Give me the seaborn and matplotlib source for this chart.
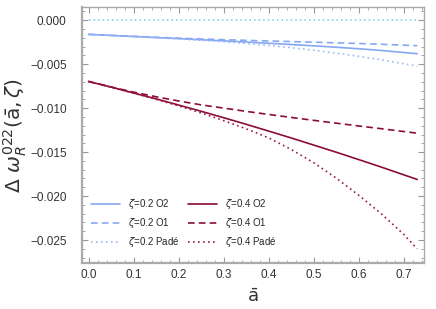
"""
Delta omega_R^022 vs a-bar for two zeta values
"""

import numpy as np
import pandas as pd
import matplotlib

matplotlib.use("Agg")
import matplotlib.pyplot as plt
import seaborn as sns
from matplotlib.ticker import MultipleLocator, FuncFormatter

# values
a_bar = [0.0, 0.05, 0.1, 0.15, 0.2, 0.25, 0.3, 0.35, 0.4, 0.45, 0.5, 0.55, 0.6, 0.65, 0.7, 0.73]

z02_o2 = [-0.00162, -0.00174, -0.00186, -0.00198, -0.00210, -0.00223, -0.00236, -0.00249,
          -0.00263, -0.00277, -0.00292, -0.00308, -0.00325, -0.00345, -0.00368, -0.00382]
z02_o1 = [-0.00162, -0.00173, -0.00184, -0.00195, -0.00205, -0.00214, -0.00222, -0.00230,
          -0.00237, -0.00244, -0.00251, -0.00258, -0.00266, -0.00274, -0.00285, -0.00291]
z02_pade = [-0.00162, -0.00174, -0.00187, -0.00200, -0.00214, -0.00229, -0.00246, -0.00266,
            -0.00288, -0.00313, -0.00342, -0.00375, -0.00411, -0.00451, -0.00495, -0.00523]

z04_o2 = [-0.00697, -0.00761, -0.00828, -0.00895, -0.00965, -0.01036, -0.01109, -0.01184,
          -0.01261, -0.01339, -0.01420, -0.01501, -0.01585, -0.01670, -0.01758, -0.01811]
z04_o1 = [-0.00697, -0.00760, -0.00818, -0.00871, -0.00919, -0.00963, -0.01000, -0.01037,
          -0.01072, -0.01106, -0.01139, -0.01171, -0.01203, -0.01234, -0.01266, -0.01285]
z04_pade = [-0.00697, -0.00762, -0.00830, -0.00900, -0.00975, -0.01055, -0.01142, -0.01235,
            -0.01338, -0.01470, -0.01620, -0.01795, -0.01990, -0.02200, -0.02435, -0.02600]

zero_line = [0.0] * len(a_bar)

series = [
    (r"$\zeta$=0.2 O2", z02_o2, "#86a8f2", "-"),
    (r"$\zeta$=0.2 O1", z02_o1, "#86a8f2", (0, (4, 2.5))),
    (r"$\zeta$=0.2 Padé", z02_pade, "#9dbaf5", (0, (1, 2))),
    (r"$\zeta$=0.4 O2", z04_o2, "#8c0c38", "-"),
    (r"$\zeta$=0.4 O1", z04_o1, "#8c0c38", (0, (4, 2.5))),
    (r"$\zeta$=0.4 Padé", z04_pade, "#9a1a45", (0, (1, 2))),
]


def fmt_tick(val, digits):
    s = f"{abs(val):.{digits}f}"
    if round(val, digits) < 0:
        s = "\u2212" + s
    return s


sns.set_style("ticks")
plt.rcParams["font.family"] = ["Liberation Sans", "DejaVu Sans"]
plt.rcParams["mathtext.fontset"] = "dejavusans"

fig = plt.figure(figsize=(4.36, 3.09), dpi=100)
ax = fig.add_axes([0.188, 0.149, 0.784, 0.828])

# reference line at zero
sns.lineplot(x=a_bar, y=zero_line, ax=ax, color="#6ccbe6", linewidth=1.1,
             linestyle=(0, (1, 2)), legend=False)

for label, vals, col, ls in series:
    df = pd.DataFrame({"a": a_bar, "v": vals})
    sns.lineplot(data=df, x="a", y="v", ax=ax, color=col, linewidth=1.2,
                 linestyle=ls, label=label)

ax.set_xlim(-0.0146, 0.7446)
ax.set_ylim(-0.0276, 0.00148)

ax.xaxis.set_major_locator(MultipleLocator(0.1))
ax.xaxis.set_minor_locator(MultipleLocator(0.02))
ax.yaxis.set_major_locator(MultipleLocator(0.005))
ax.yaxis.set_minor_locator(MultipleLocator(0.001))
ax.xaxis.set_major_formatter(FuncFormatter(lambda v, p: fmt_tick(v, 1)))
ax.yaxis.set_major_formatter(FuncFormatter(lambda v, p: fmt_tick(v, 3)))

ax.tick_params(which="both", direction="in", top=True, right=True,
               color="#999999", labelsize=8.5, labelcolor="#333333")
ax.tick_params(which="major", length=4, width=0.8)
ax.tick_params(which="minor", length=2, width=0.6)
ax.tick_params(axis="y", which="major", pad=11)
ax.tick_params(axis="x", which="major", pad=4)
for sp in ax.spines.values():
    sp.set_color("#aaaaaa")
    sp.set_linewidth(1.0)
ax.spines["left"].set_linewidth(1.6)
ax.spines["bottom"].set_linewidth(1.6)

ax.set_xlabel(r"$\mathrm{\bar{a}}$", fontsize=13, color="#333333", labelpad=6)
ax.set_ylabel(r"$\Delta\ \omega_R^{022}(\mathrm{\bar{a}},\zeta)$", fontsize=14.5,
              color="#333333", labelpad=1)

ax.legend(ncol=2, loc="lower left", bbox_to_anchor=(0.0, 0.02), frameon=False,
          fontsize=7, handlelength=3.0, columnspacing=0.9, handletextpad=0.8,
          labelspacing=0.5)

fig.savefig("out.png", dpi=100)
plt.close(fig)
